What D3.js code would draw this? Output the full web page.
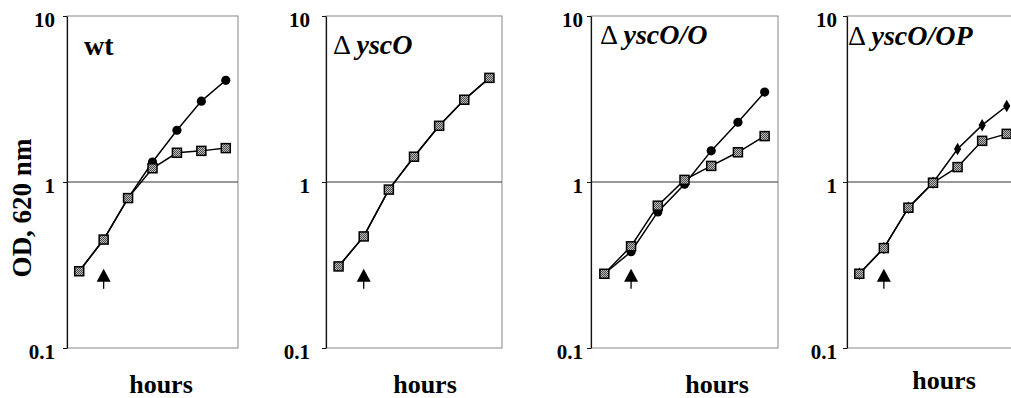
<!DOCTYPE html>
<html><head><meta charset="utf-8">
<script src="https://cdn.jsdelivr.net/npm/d3@7"></script>
<style>
body{margin:0;background:#fff}
text{font-family:"Liberation Serif","Times New Roman",serif;fill:#000}
</style>
</head><body><svg id="c" width="1011" height="398"></svg>
<script>
// ---- data ----
const timePoints = [1, 2, 3, 4, 5, 6, 7];
const labelPrefix = ["", "\u0394 ", "\u0394 ", "\u0394 "];
const labelGene = ["wt", "yscO", "yscO/O", "yscO/OP"];
const yTicks = [0.1, 1, 10];
const yTickLabels = ["0.1", "1", "10"];
const squareWt = [0.29, 0.45, 0.80, 1.21, 1.50, 1.54, 1.60];
const squareYscO = [0.31, 0.47, 0.90, 1.42, 2.18, 3.13, 4.24];
const squareYscOO = [0.28, 0.41, 0.72, 1.03, 1.25, 1.51, 1.89];
const squareYscOOP = [0.28, 0.40, 0.70, 0.99, 1.23, 1.77, 1.95];
const dotWt = [0.29, 0.45, 0.80, 1.32, 2.05, 3.07, 4.10];
const dotYscO = [0.31, 0.47, 0.90, 1.42, 2.18, 3.13, 4.24];
const dotYscOO = [0.28, 0.38, 0.66, 0.97, 1.54, 2.29, 3.48];
const dotYscOOP = [0.28, 0.40, 0.70, 0.99, 1.58, 2.20, 2.87];
const arrowTime = 2;     // induction time point
const arrowValue = 0.3;  // OD at arrow tip
const squares = [squareWt, squareYscO, squareYscOO, squareYscOOP];
const dots = [dotWt, dotYscO, dotYscOO, dotYscOOP];

// ---- layout ----
const layout = [
  {left: 67, right: 238, pad: 8, lx: 17, ly: 55, hx: 161, hy: 393, dot: "circle"},
  {left: 326, right: 502, pad: 12, lx: 7, ly: 54, hx: 425, hy: 393, dot: "circle"},
  {left: 591, right: 778, pad: 4, lx: 9, ly: 44, hx: 717, hy: 393, dot: "circle"},
  {left: 847, right: 1019, pad: 6, lx: 1, ly: 45, hx: 944, hy: 389, dot: "diamond"}
];
const plotTop = 16, plotBottom = 348;

const svg = d3.select("#c");
const defs = svg.append("defs");
const pat = defs.append("pattern").attr("id", "ht").attr("patternUnits", "userSpaceOnUse")
  .attr("width", 2).attr("height", 2);
pat.append("rect").attr("width", 2).attr("height", 2).attr("fill", "#bdbdbd");
pat.append("rect").attr("width", 1).attr("height", 1).attr("fill", "#4a4a4a");
pat.append("rect").attr("x", 1).attr("y", 1).attr("width", 1).attr("height", 1).attr("fill", "#4a4a4a");

const y = d3.scaleLog().domain([0.1, 10]).range([plotBottom, plotTop]);

layout.forEach((L, i) => {
  const g = svg.append("g");
  const x = d3.scalePoint().domain(timePoints).range([L.left, L.right]).padding(0.5);

  // frame
  g.append("rect").attr("x", L.left).attr("y", plotTop)
    .attr("width", L.right - L.left).attr("height", plotBottom - plotTop)
    .attr("fill", "none").attr("stroke", "#888").attr("stroke-width", 1);
  // gridline at 1
  g.append("line").attr("x1", L.left).attr("x2", L.right)
    .attr("y1", y(1)).attr("y2", y(1)).attr("stroke", "#333").attr("stroke-width", 1);

  // y axis
  const ax = g.append("g").attr("transform", `translate(${L.left},0)`)
    .call(d3.axisLeft(y).tickValues(yTicks).tickSize(4).tickSizeOuter(0).tickPadding(L.pad)
      .tickFormat((d, k) => yTickLabels[k]));
  ax.select(".domain").attr("stroke", "#111").attr("stroke-width", 1.2);
  ax.selectAll(".tick line").attr("stroke", "#111");
  ax.selectAll(".tick text").attr("font-size", 21).attr("font-weight", "bold")
    .attr("font-family", "Liberation Serif").attr("fill", "#000").attr("dy", "0.5em");

  // lines
  const line = d3.line().x((d, k) => x(timePoints[k])).y(d => y(d));
  g.append("path").attr("d", line(dots[i])).attr("fill", "none")
    .attr("stroke", "#000").attr("stroke-width", 1.5);
  g.append("path").attr("d", line(squares[i])).attr("fill", "none")
    .attr("stroke", "#000").attr("stroke-width", 1.5);

  // dots
  if (L.dot === "circle") {
    g.selectAll(".dot").data(dots[i]).join("circle")
      .attr("cx", (d, k) => x(timePoints[k])).attr("cy", d => y(d)).attr("r", 4.6).attr("fill", "#000");
  } else {
    g.selectAll(".dot").data(dots[i]).join("path")
      .attr("transform", (d, k) => `translate(${x(timePoints[k])},${y(d)})`)
      .attr("d", d3.symbol().type(d3.symbolDiamond).size(45)).attr("fill", "#000");
  }
  // squares
  g.selectAll(".sq").data(squares[i]).join("rect")
    .attr("x", (d, k) => x(timePoints[k]) - 4.5).attr("y", d => y(d) - 4.5)
    .attr("width", 9).attr("height", 9)
    .attr("fill", "url(#ht)").attr("stroke", "#000").attr("stroke-width", 1.5);

  // arrow
  const axp = x(arrowTime), ay = y(arrowValue);
  g.append("path").attr("d", `M${axp},${ay} L${axp + 7},${ay + 13} L${axp - 7},${ay + 13} Z`).attr("fill", "#000");
  g.append("line").attr("x1", axp).attr("x2", axp).attr("y1", ay + 10).attr("y2", ay + 20)
    .attr("stroke", "#000").attr("stroke-width", 1.3);

  // panel label
  const t = g.append("text").attr("x", L.left + L.lx).attr("y", L.ly).attr("font-size", 28);
  if (labelPrefix[i]) t.append("tspan").text(labelPrefix[i]);
  t.append("tspan").attr("font-weight", "bold").attr("font-style", i === 0 ? "normal" : "italic").text(labelGene[i]);

  // hours
  g.append("text").attr("x", L.hx).attr("y", L.hy).attr("text-anchor", "middle")
    .attr("font-size", 26).attr("font-weight", "bold").text("hours");
});

svg.append("text").attr("transform", "translate(31,208) rotate(-90)")
  .attr("text-anchor", "middle").attr("font-size", 27).attr("font-weight", "bold").text("OD, 620 nm");
</script>
</body></html>
